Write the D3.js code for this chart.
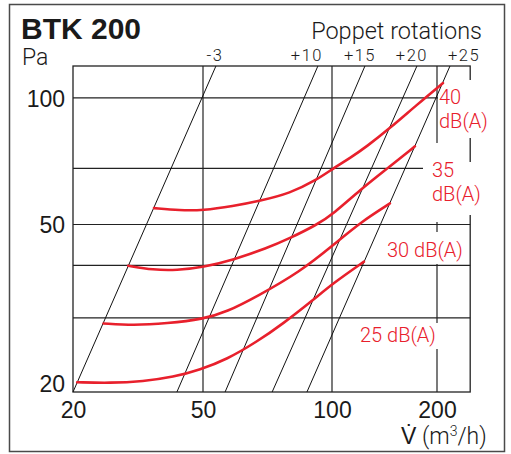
<!DOCTYPE html>
<html>
<head>
<meta charset="utf-8">
<script src="https://cdn.jsdelivr.net/npm/d3@7/dist/d3.min.js"></script>
<style>
  body { margin: 0; background: #fff; }
  svg { display: block; font-family: Roboto, 'Liberation Sans', sans-serif; }
  .lbl { font-weight: 300; fill: #1a1a1a; }
  .red { font-weight: 300; fill: #e8202c; font-size: 20px; }
</style>
</head>
<body>
<svg id="chart"></svg>
<script>
// axis ticks and grid
const xTicks = [20, 50, 100, 200];
const yTicks = [20, 50, 100];
const xGrid = [50, 100, 200];
const yGrid = [30, 40, 50, 68, 100];

// poppet rotation lines: flow at 20 Pa and at the top of the chart (119 Pa)
const rotationLabels = ['-3', '+10', '+15', '+20', '+25'];
const rotationPa = [20, 119];
const rotationFlowLow = [20, 41.6, 56.3, 72.5, 87.4];
const rotationFlowHigh = [53.6, 92.7, 124.3, 175.2, 217.9];

// sound level curves
const soundLabels = ['25 dB(A)', '30 dB(A)', '35 dB(A)', '40 dB(A)'];
const flow25 = [20.6, 26.0, 32.8, 40.6, 49.0, 56.8, 66.7, 77.0, 90.4, 100.9, 123.5];
const pa25 = [21.1, 21.0, 21.2, 21.7, 22.6, 23.9, 26.3, 29.1, 33.1, 36.3, 40.8];
const flow30 = [24.8, 30.6, 38.7, 50.1, 56.8, 66.7, 84.2, 100.9, 120.3, 146.6];
const pa30 = [29.1, 28.8, 29.1, 29.8, 31.0, 33.7, 38.6, 44.7, 50.5, 56.1];
const flow35 = [29.5, 35.2, 41.5, 50.1, 58.8, 70.4, 79.8, 92.1, 100.9, 120.3, 146.6, 172.9];
const pa35 = [39.9, 39.0, 38.9, 39.6, 41.2, 43.9, 46.4, 49.9, 53.0, 60.4, 68.7, 76.7];
const flow40 = [35.4, 42.5, 50, 58.7, 67.9, 79.8, 92.1, 100.9, 112.6, 125.8, 146.6, 175.0, 208.1];
const pa40 = [54.7, 54.0, 54.0, 55.3, 56.9, 59.3, 63.8, 68.0, 71.9, 76.6, 84.7, 96.2, 108.4];

class BtkChart {

  constructor(_config) {
    this.config = {
      parentElement: _config.parentElement,
      width: 511,
      height: 454,
      xMax: 249,
      yMax: 119
    }
    this.initVis();
  }

  initVis() {
    let vis = this;

    vis.svg = d3.select(vis.config.parentElement)
      .attr('width', vis.config.width)
      .attr('height', vis.config.height);

    // x axis of the original is not a clean log scale, so piecewise log
    vis.xScale = d3.scaleLog()
      .domain([20, 50, 100, 200])
      .range([73, 203, 332, 437]);

    vis.yScale = d3.scaleLog()
      .domain([20, vis.config.yMax])
      .range([392, 66]);

    vis.left = vis.xScale(20);
    vis.right = vis.xScale(vis.config.xMax);
    vis.bottom = vis.yScale(20);
    vis.top = vis.yScale(vis.config.yMax);

    vis.renderVis();
  }

  renderVis() {
    let vis = this;
    const x = vis.xScale, y = vis.yScale;

    // outer border
    vis.svg.append('rect')
      .attr('x', 9.5).attr('y', 4.5)
      .attr('width', 495).attr('height', 447)
      .attr('fill', 'none')
      .attr('stroke', '#4a4a4a')
      .attr('stroke-width', 1.5);

    // grid
    vis.svg.selectAll('.vgrid')
      .data(xGrid)
      .join('line')
      .attr('class', 'vgrid')
      .attr('x1', d => x(d)).attr('x2', d => x(d))
      .attr('y1', vis.top).attr('y2', vis.bottom)
      .attr('stroke', '#222').attr('stroke-width', 1.2);

    vis.svg.selectAll('.hgrid')
      .data(yGrid)
      .join('line')
      .attr('class', 'hgrid')
      .attr('x1', vis.left).attr('x2', vis.right)
      .attr('y1', d => y(d)).attr('y2', d => y(d))
      .attr('stroke', '#222').attr('stroke-width', 1.2);

    // plot frame
    vis.svg.append('rect')
      .attr('x', vis.left).attr('y', vis.top)
      .attr('width', vis.right - vis.left)
      .attr('height', vis.bottom - vis.top)
      .attr('fill', 'none')
      .attr('stroke', '#222').attr('stroke-width', 1.3);

    // white label backgrounds which cut the grid
    const boxes = [
      [438, 80, 38, 58],
      [423, 143, 45, 79],
      [468, 162, 8, 53],
      [384, 232, 84, 32],
      [357, 323, 89, 26]
    ];
    vis.svg.selectAll('.lblbox')
      .data(boxes)
      .join('rect')
      .attr('class', 'lblbox')
      .attr('x', d => d[0]).attr('y', d => d[1])
      .attr('width', d => d[2]).attr('height', d => d[3])
      .attr('fill', '#fff');

    // poppet rotation lines
    vis.svg.selectAll('.rot')
      .data(rotationLabels)
      .join('line')
      .attr('class', 'rot')
      .attr('x1', (d, i) => x(rotationFlowLow[i]))
      .attr('y1', y(rotationPa[0]))
      .attr('x2', (d, i) => x(rotationFlowHigh[i]))
      .attr('y2', y(rotationPa[1]))
      .attr('stroke', '#111').attr('stroke-width', 1);

    // sound level curves
    const curves = [
      flow25.map((v, i) => [v, pa25[i]]),
      flow30.map((v, i) => [v, pa30[i]]),
      flow35.map((v, i) => [v, pa35[i]]),
      flow40.map((v, i) => [v, pa40[i]])
    ];
    const line = d3.line()
      .x(d => x(d[0]))
      .y(d => y(d[1]))
      .curve(d3.curveBasis);

    vis.svg.selectAll('.snd')
      .data(curves)
      .join('path')
      .attr('class', 'snd')
      .attr('d', line)
      .attr('fill', 'none')
      .attr('stroke', '#e8202c')
      .attr('stroke-width', 2.6)
      .attr('stroke-linecap', 'round');

    // axes (labels only)
    const xAxis = d3.axisBottom(x).tickValues(xTicks).tickSize(0).tickPadding(0).tickFormat(d3.format('d'));
    const xAxisG = vis.svg.append('g')
      .attr('transform', `translate(0,${vis.bottom})`)
      .call(xAxis);
    xAxisG.select('.domain').remove();
    xAxisG.selectAll('text')
      .attr('class', 'lbl')
      .attr('dy', 0).attr('y', 26)
      .style('font-size', '23px');

    const yAxis = d3.axisLeft(y).tickValues(yTicks).tickSize(0).tickPadding(8).tickFormat(d3.format('d'));
    const yAxisG = vis.svg.append('g')
      .attr('transform', `translate(${vis.left},0)`)
      .call(yAxis);
    yAxisG.select('.domain').remove();
    yAxisG.selectAll('text')
      .attr('class', 'lbl')
      .attr('dy', d => d === 20 ? '-0.02em' : '0.36em')
      .style('font-size', '23px');

    // titles
    vis.svg.append('text')
      .attr('x', 21).attr('y', 39)
      .style('font-family', "'Liberation Sans', Arial, sans-serif")
      .style('font-weight', 'bold')
      .style('font-size', '30px')
      .attr('fill', '#1a1a1a')
      .text('BTK 200');

    vis.svg.append('text')
      .attr('class', 'lbl')
      .attr('x', 22).attr('y', 65)
      .style('font-size', '23px')
      .text('Pa');

    vis.svg.append('text')
      .attr('class', 'lbl')
      .attr('x', 482).attr('y', 39)
      .attr('text-anchor', 'end')
      .style('font-size', '23.5px')
      .text('Poppet rotations');

    const rotLabelDx = [-1, -11, -5, -5, 14];
    vis.svg.selectAll('.rotlbl')
      .data(rotationLabels)
      .join('text')
      .attr('class', 'lbl rotlbl')
      .attr('x', (d, i) => x(rotationFlowHigh[i]) + rotLabelDx[i])
      .attr('y', 61)
      .attr('text-anchor', 'middle')
      .style('font-size', '16.5px')
      .style('letter-spacing', '1.5px')
      .text(d => d);

    const vLabel = vis.svg.append('text')
      .attr('class', 'lbl')
      .attr('x', 401).attr('y', 444)
      .style('font-size', '23px');
    vLabel.append('tspan').text('V\u0307 (m');
    vLabel.append('tspan').attr('dy', -8).style('font-size', '14px').text('3');
    vLabel.append('tspan').attr('dy', 8).text('/h)');

    // sound level labels, the two upper ones wrapped on two lines
    const red = (tx, ty, s, wrap) => {
      const t = vis.svg.append('text')
        .attr('class', 'red').attr('x', tx).attr('y', ty);
      if (!wrap) return t.text(s);
      const parts = s.split(' ');
      t.append('tspan').attr('x', tx).text(parts[0]);
      t.append('tspan').attr('x', tx).attr('dy', 23.6).text(parts[1]);
      return t;
    };
    red(439, 104, soundLabels[3], true);
    red(432, 177, soundLabels[2], true);
    red(387, 256.5, soundLabels[1], false);
    red(360, 341.5, soundLabels[0], false);
  }
}

new BtkChart({ parentElement: '#chart' });
</script>
</body>
</html>
